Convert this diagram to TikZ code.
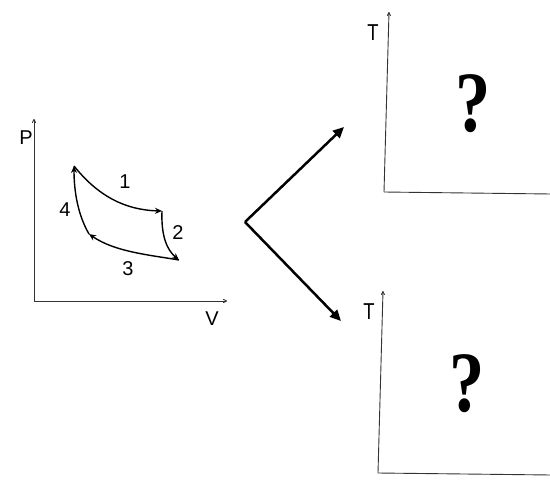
\documentclass[tikz,border=0pt]{standalone}
\usepackage{fontspec}
\setmainfont{Liberation Serif}
\setsansfont{Liberation Sans}
\usetikzlibrary{arrows.meta}
\tikzset{
  axis/.style={line width=0.9pt, draw=black!80, -{To[length=4pt,width=4pt]}},
  axisplain/.style={line width=0.9pt, draw=black!80},
  cyc/.style={line width=1.4pt, -{Stealth[length=7pt,width=6pt]}},
  big/.style={line width=2.5pt, -{Triangle[length=11pt,width=10pt]}},
  lab/.style={font=\sffamily\fontsize{20}{20}\selectfont, inner sep=0pt},
  tlab/.style={font=\sffamily\fontsize{23}{23}\selectfont, inner sep=0pt, xscale=0.8},
  qm/.style={font=\rmfamily\bfseries\fontsize{86}{86}\selectfont, inner sep=0pt, xscale=0.82}
}
\begin{document}
\begin{tikzpicture}[x=1pt,y=-1pt]
\useasboundingbox (0,0) rectangle (550,501);
% P-V diagram
\coordinate (O1) at (34,301);
\coordinate (Ptop) at (34,119);
\coordinate (Vend) at (227,301);
\draw[axis] (O1) -- (Ptop);
\draw[axis] (O1) -- (Vend);
\node[lab] (P) at (26,138) {P};
\node[lab] (V) at (212,319) {V};
\coordinate (A) at (74,166);
\coordinate (B) at (162,211);
\coordinate (C) at (179,260);
\coordinate (D) at (89,234);
\draw[cyc] (A) .. controls (98,196) and (125,210) .. (B);
\draw[cyc] (B) .. controls (161,236) and (167,250) .. (C);
\draw[cyc] (C) .. controls (150,255) and (115,252) .. (D);
\draw[cyc] (D) .. controls (78,215) and (74,192) .. (A);
\node[lab] (n1) at (125,182) {1};
\node[lab] (n2) at (178,233) {2};
\node[lab] (n3) at (128,269) {3};
\node[lab] (n4) at (65,210) {4};
% big arrows
\coordinate (vx) at (245,222);
\coordinate (up) at (344,127);
\coordinate (dn) at (341,321);
\draw[big] (vx) -- (up);
\draw[big] (vx) -- (dn);
% top T diagram
\coordinate (O2) at (384,192);
\coordinate (T2top) at (389,12);
\coordinate (T2end) at (551,194);
\draw[axis] (O2) -- (T2top);
\draw[axisplain] (O2) -- (T2end);
\node[tlab] (T2) at (373,33) {T};
\node[qm] (q2) at (473,104) {?};
% bottom T diagram
\coordinate (O3) at (378,473);
\coordinate (T3top) at (383,291);
\coordinate (T3end) at (551,475);
\draw[axis] (O3) -- (T3top);
\draw[axisplain] (O3) -- (T3end);
\node[tlab] (T3) at (369,312) {T};
\node[qm] (q3) at (467,384) {?};
\end{tikzpicture}
\end{document}
